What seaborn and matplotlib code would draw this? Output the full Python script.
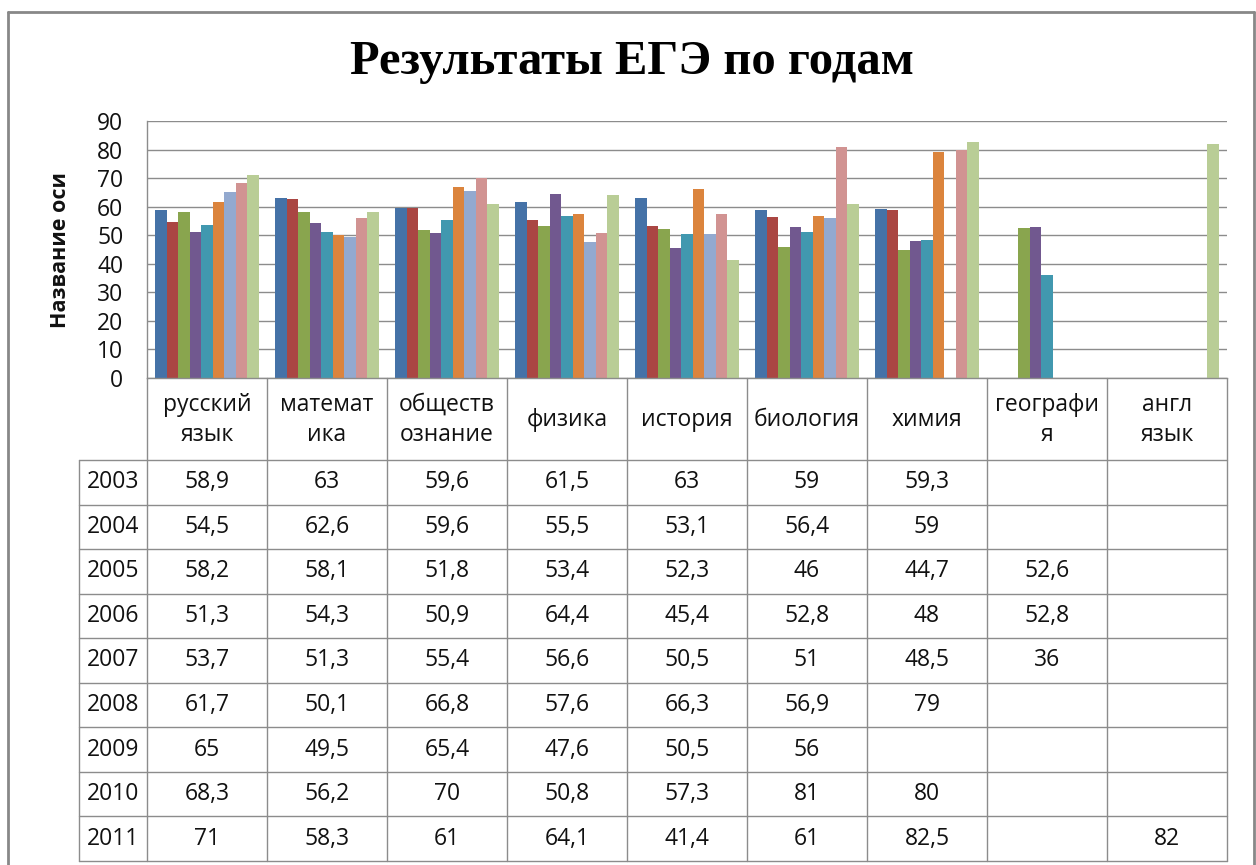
import numpy as np
import pandas as pd
import matplotlib
matplotlib.use("Agg")
import matplotlib.pyplot as plt
import seaborn as sns

# ---- data ----
subjects = ["русский язык", "математика", "обществознание", "физика", "история",
            "биология", "химия", "география", "англ язык"]
header_labels = ["русский\nязык", "математ\nика", "обществ\nознание", "физика", "история",
                 "биология", "химия", "географи\nя", "англ\nязык"]
years = ["2003", "2004", "2005", "2006", "2007", "2008", "2009", "2010", "2011"]
nan = np.nan
v2003 = [58.9, 63, 59.6, 61.5, 63, 59, 59.3, nan, nan]
v2004 = [54.5, 62.6, 59.6, 55.5, 53.1, 56.4, 59, nan, nan]
v2005 = [58.2, 58.1, 51.8, 53.4, 52.3, 46, 44.7, 52.6, nan]
v2006 = [51.3, 54.3, 50.9, 64.4, 45.4, 52.8, 48, 52.8, nan]
v2007 = [53.7, 51.3, 55.4, 56.6, 50.5, 51, 48.5, 36, nan]
v2008 = [61.7, 50.1, 66.8, 57.6, 66.3, 56.9, 79, nan, nan]
v2009 = [65, 49.5, 65.4, 47.6, 50.5, 56, nan, nan, nan]
v2010 = [68.3, 56.2, 70, 50.8, 57.3, 81, 80, nan, nan]
v2011 = [71, 58.3, 61, 64.1, 41.4, 61, 82.5, nan, 82]
series = [v2003, v2004, v2005, v2006, v2007, v2008, v2009, v2010, v2011]
y_ticks = [0, 10, 20, 30, 40, 50, 60, 70, 80, 90]

colors = ["#4572A7", "#AA4643", "#89A54E", "#71588F", "#4198AF",
          "#DB843D", "#93A9CF", "#D19392", "#B9CD96"]

rows = []
for yr, vals in zip(years, series):
    for s, v in zip(subjects, vals):
        rows.append({"subject": s, "year": yr, "value": v})
df = pd.DataFrame(rows)

sns.set_style("white")
plt.rcParams["font.family"] = ["Open Sans", "DejaVu Sans"]

W, H = 1256, 865
fig = plt.figure(figsize=(W / 100, H / 100), dpi=100)

def fx(px):
    return px / W

def fy(py):
    return 1 - py / H

GRID = "#8c8c8c"
TXT = "#111111"
FS = 16.5
L, R, T, B = 147, 1227, 121, 378
ax = fig.add_axes([fx(L), fy(B), fx(R) - fx(L), fy(T) - fy(B)])
sns.barplot(data=df, x="subject", y="value", hue="year", order=subjects,
            hue_order=years, palette=colors, saturation=1, width=0.867,
            dodge=True, legend=False, ax=ax, errorbar=None, linewidth=0)
ax.set_xlim(-0.5, len(subjects) - 0.5)
ax.set_ylim(0, 90)
ax.set_yticks(y_ticks)
ax.set_yticklabels([str(t) for t in y_ticks], fontsize=FS, color=TXT)
ax.tick_params(axis="y", length=0, pad=17)
ax.set_xticks([])
ax.set_xlabel("")
ax.set_ylabel("")
ax.yaxis.grid(True, color=GRID, linewidth=1)
ax.set_axisbelow(True)
for side in ["top", "right"]:
    ax.spines[side].set_visible(False)
for side in ["left", "bottom"]:
    ax.spines[side].set_color(GRID)
    ax.spines[side].set_linewidth(1)

fig.text(fx(60), fy(250), "Название оси", rotation=90, ha="center", va="center",
         fontsize=15.5, fontweight="bold", color=TXT)

fig.text(fx(632), fy(62), "Результаты ЕГЭ по годам", ha="center", va="center",
         fontsize=35, fontweight="bold", family="Liberation Serif", color="black")

# ---- data table ----
TB = 861
tax = fig.add_axes([fx(L), fy(TB), fx(R) - fx(L), fy(B) - fy(TB)])
tax.set_xlim(-0.5, len(subjects) - 0.5)
tax.set_ylim(TB, B)
tax.axis("off")
hdr_bottom = 460
row_h = (TB - hdr_bottom) / len(years)
x_left = -0.5 - (L - 79) / 120.0
n = len(subjects)
for k in range(len(years) + 1):
    yy = hdr_bottom + k * row_h
    tax.plot([x_left, n - 0.5], [yy, yy], color=GRID, lw=1, clip_on=False)
for i in range(n + 1):
    tax.plot([i - 0.5, i - 0.5], [B, TB], color=GRID, lw=1, clip_on=False)
tax.plot([x_left, x_left], [hdr_bottom, TB], color=GRID, lw=1, clip_on=False)

for i, lab in enumerate(header_labels):
    tax.text(i, (B + hdr_bottom) / 2 + 1, lab, ha="center", va="center",
             fontsize=FS, linespacing=1.35, color=TXT)

def fmt(v):
    return f"{v:g}".replace(".", ",")

for r, (yr, vals) in enumerate(zip(years, series)):
    yc = hdr_bottom + (r + 0.5) * row_h
    tax.text((x_left - 0.5) / 2, yc, yr, ha="center", va="center",
             fontsize=FS, color=TXT, clip_on=False)
    for i, v in enumerate(vals):
        if not np.isnan(v):
            tax.text(i, yc, fmt(v), ha="center", va="center", fontsize=FS,
                     color=TXT)

# outer chart border
fig.add_artist(plt.Line2D([fx(8), fx(8)], [fy(12), 0], transform=fig.transFigure,
                          color="#888888", lw=2))
fig.add_artist(plt.Line2D([fx(8), fx(1254)], [fy(12), fy(12)], transform=fig.transFigure,
                          color="#888888", lw=2))
fig.add_artist(plt.Line2D([fx(1254), fx(1254)], [fy(12), 0], transform=fig.transFigure,
                          color="#888888", lw=2))

fig.savefig("out.png", dpi=100, facecolor="white")
